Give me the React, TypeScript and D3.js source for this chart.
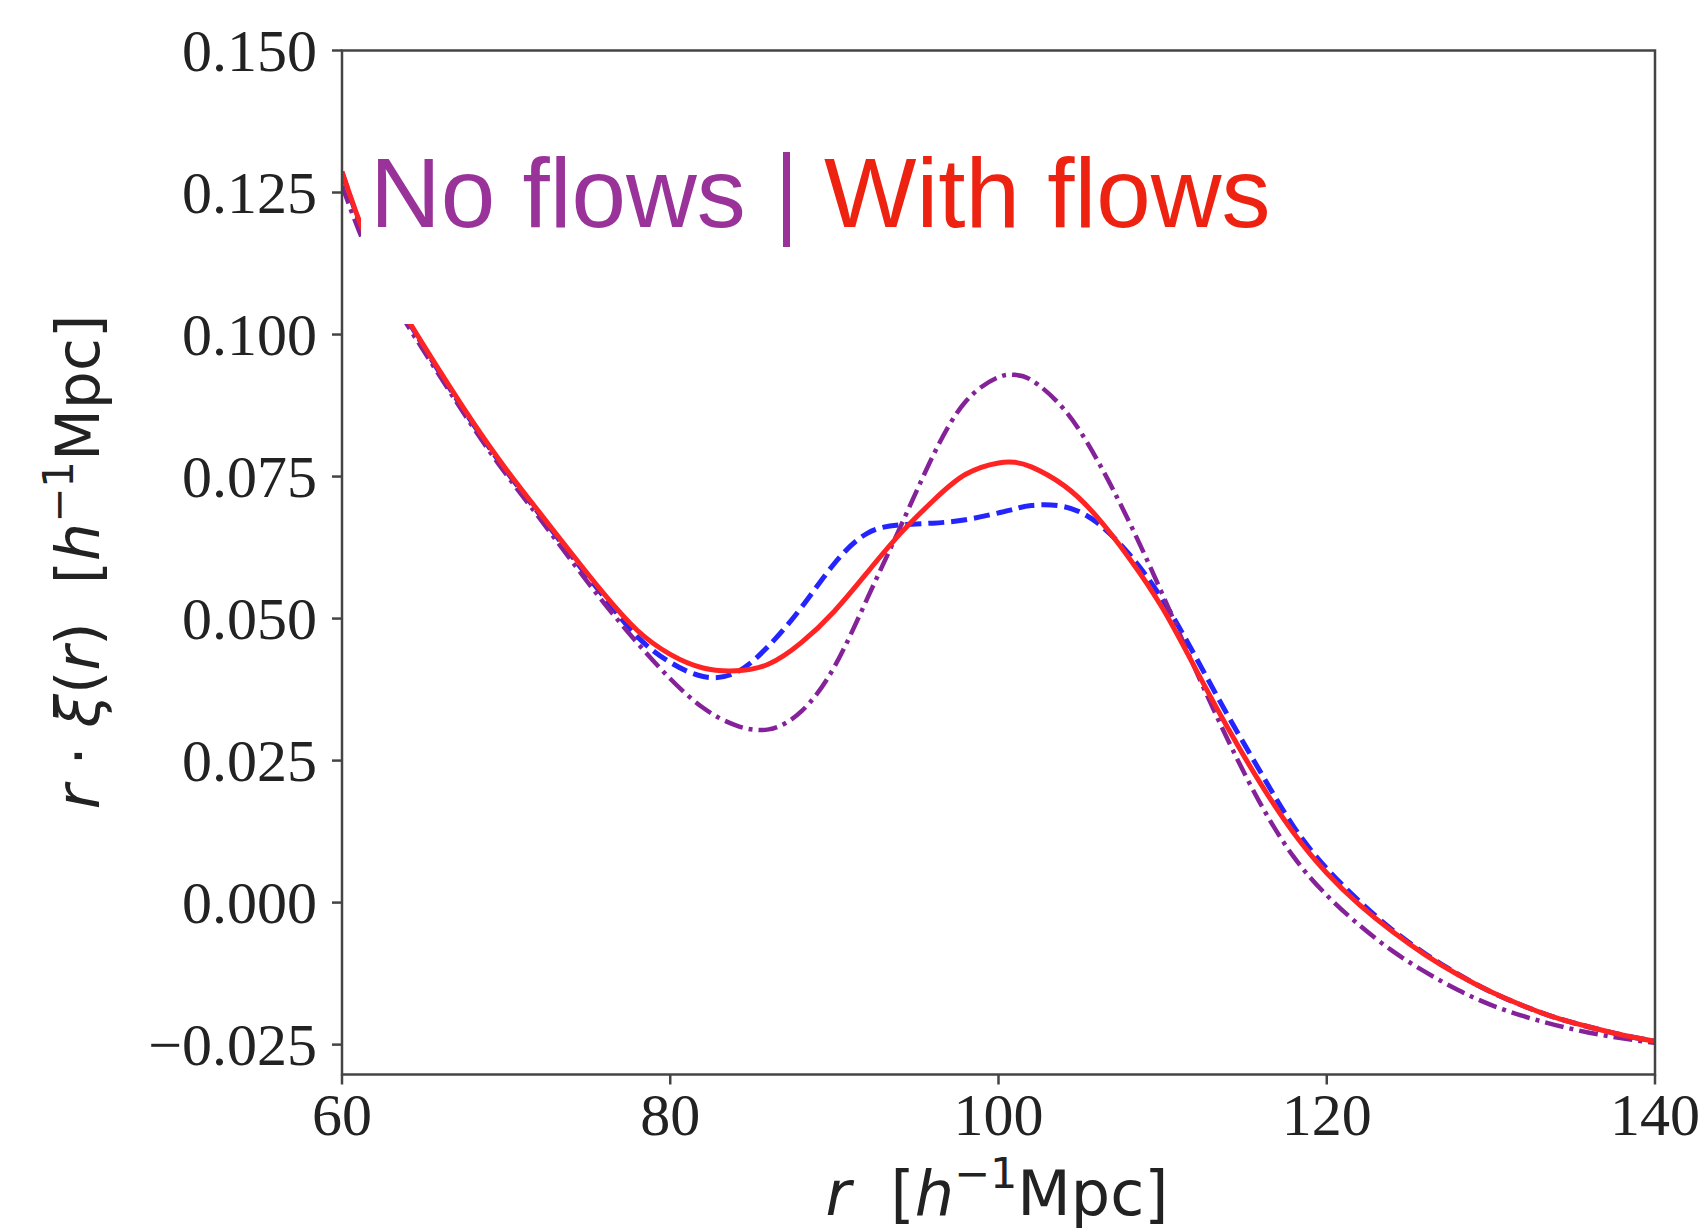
import React from "react";
import * as d3 from "d3";

// r grid (h^-1 Mpc)
const R = [60, 61, 62, 63, 64, 66, 68, 70, 72, 74, 76, 78, 80, 82, 84, 86, 88, 90, 92, 94, 96, 98, 100, 101, 102, 104, 106, 108, 110, 112, 114, 116, 118, 120, 122, 124, 126, 128, 130, 132, 134, 136, 138, 140];

// r * xi(r) — red solid ("With flows")
const redWithFlows = [0.1287, 0.1204, 0.1135, 0.1078, 0.1027, 0.0934, 0.0845, 0.0763, 0.0688, 0.0614, 0.0542, 0.0479, 0.0437, 0.0413, 0.0408, 0.0420, 0.0458, 0.0513, 0.0581, 0.0649, 0.0707, 0.0754, 0.0774, 0.0775, 0.0767, 0.0734, 0.0679, 0.0605, 0.0518, 0.0412, 0.0306, 0.0208, 0.0122, 0.0052, -0.0004, -0.0051, -0.0092, -0.0127, -0.0157, -0.0182, -0.0203, -0.0219, -0.0233, -0.0244];

// purple dash-dot ("No flows")
const purpleNoFlows = [0.1262, 0.1185, 0.1120, 0.1065, 0.1016, 0.0925, 0.0836, 0.0754, 0.0678, 0.0601, 0.0526, 0.0457, 0.0394, 0.0343, 0.0312, 0.0305, 0.0337, 0.0415, 0.0535, 0.0660, 0.0786, 0.0882, 0.0925, 0.0929, 0.0920, 0.0868, 0.0780, 0.0668, 0.0542, 0.0410, 0.0285, 0.0172, 0.0080, 0.0013, -0.0040, -0.0085, -0.0122, -0.0154, -0.0180, -0.0200, -0.0216, -0.0229, -0.0239, -0.0247];

// blue dashed
const blueDashed = [0.1285, 0.1202, 0.1133, 0.1076, 0.1025, 0.0931, 0.0842, 0.0760, 0.0685, 0.0610, 0.0537, 0.0468, 0.0423, 0.0398, 0.0405, 0.0452, 0.0520, 0.0597, 0.0650, 0.0665, 0.0668, 0.0674, 0.0686, 0.0693, 0.0699, 0.0697, 0.0669, 0.0612, 0.0533, 0.0433, 0.0328, 0.0228, 0.0133, 0.0060, 0.0002, -0.0048, -0.0090, -0.0126, -0.0157, -0.0182, -0.0203, -0.0219, -0.0233, -0.0244];

const xTicks = [60, 80, 100, 120, 140];
const yTicks = [-0.025, 0, 0.025, 0.05, 0.075, 0.1, 0.125, 0.15];

const W = 1702;
const H = 1229;
const M = { left: 342, right: 1655, top: 50.5, bottom: 1074.5 };

export default function App() {
  const x = d3.scaleLinear().domain([60, 140]).range([M.left, M.right]);
  const y = d3.scaleLinear().domain([-0.03026, 0.15]).range([M.bottom, M.top]);

  const line = (vals: number[]) =>
    d3
      .line<number>()
      .x((_, i) => x(R[i]))
      .y((d) => y(d))
      .curve(d3.curveNatural)(vals) as string;

  const axisColor = "#444";
  const fmt = (v: number) => (v < 0 ? "\u2212" : "") + Math.abs(v).toFixed(3);

  return (
    <svg
      width={W}
      height={H}
      style={{ position: "absolute", left: 0, top: 0, background: "#fff" }}
    >
      <defs>
        <clipPath id="plotclip">
          <rect x={M.left} y={M.top} width={M.right - M.left} height={M.bottom - M.top} />
        </clipPath>
      </defs>
      <rect x={0} y={0} width={W} height={H} fill="#fff" />

      <g clipPath="url(#plotclip)" fill="none" strokeLinejoin="round">
        <path d={line(blueDashed)} stroke="#2424ff" strokeWidth={5} strokeDasharray="16,7" />
        <path d={line(purpleNoFlows)} stroke="#85229a" strokeWidth={4.5} strokeDasharray="19,6,4,6" />
        <path d={line(redWithFlows)} stroke="#ff2424" strokeWidth={5} />
      </g>

      {/* white box behind annotation */}
      <rect x={361} y={120} width={930} height={204} fill="#fff" />

      {/* spines */}
      <rect
        x={M.left}
        y={M.top}
        width={M.right - M.left}
        height={M.bottom - M.top}
        fill="none"
        stroke={axisColor}
        strokeWidth={2.5}
      />

      {/* y ticks */}
      {yTicks.map((t) => (
        <g key={"y" + t}>
          <line x1={M.left - 10} x2={M.left} y1={y(t)} y2={y(t)} stroke={axisColor} strokeWidth={2.5} />
          <text
            x={317}
            y={y(t) + 20}
            textAnchor="end"
            fontFamily="'Liberation Serif', 'Times New Roman', serif"
            fontSize={60}
            fill="#222"
          >
            {fmt(t)}
          </text>
        </g>
      ))}

      {/* x ticks */}
      {xTicks.map((t) => (
        <g key={"x" + t}>
          <line x1={x(t)} x2={x(t)} y1={M.bottom} y2={M.bottom + 10} stroke={axisColor} strokeWidth={2.5} />
          <text
            x={x(t)}
            y={1135}
            textAnchor="middle"
            fontFamily="'Liberation Serif', 'Times New Roman', serif"
            fontSize={60}
            fill="#222"
          >
            {t}
          </text>
        </g>
      ))}

      {/* x label */}
      <text
        x={997}
        y={1215}
        textAnchor="middle"
        fontFamily="'DejaVu Sans', sans-serif"
        fontSize={62}
        fill="#222"
        style={{ whiteSpace: "pre" }}
      >
        <tspan fontStyle="italic">r</tspan>
        <tspan>{"  ["}</tspan>
        <tspan fontStyle="italic">h</tspan>
        <tspan fontSize={43} dy={-27}>{"\u22121"}</tspan>
        <tspan dy={27}>Mpc]</tspan>
      </text>

      {/* y label */}
      <text
        transform="translate(99,562) rotate(-90)"
        textAnchor="middle"
        fontFamily="'DejaVu Sans', sans-serif"
        fontSize={60}
        fill="#222"
        style={{ whiteSpace: "pre" }}
      >
        <tspan fontStyle="italic">r</tspan>
        <tspan>{" \u00b7 "}</tspan>
        <tspan fontStyle="italic">{"\u03be"}</tspan>
        <tspan>(</tspan>
        <tspan fontStyle="italic">r</tspan>
        <tspan>{")  ["}</tspan>
        <tspan fontStyle="italic">h</tspan>
        <tspan fontSize={42} dy={-26}>{"\u22121"}</tspan>
        <tspan dy={26}>Mpc]</tspan>
      </text>

      {/* annotation */}
      <text
        x={370}
        y={227}
        fontFamily="'Liberation Sans', Arial, Helvetica, sans-serif"
        fontSize={98}
        fill="#993399"
      >
        No flows
      </text>
      <rect x={783} y={152} width={7} height={95} fill="#993399" />
      <text
        x={824}
        y={227}
        fontFamily="'Liberation Sans', Arial, Helvetica, sans-serif"
        fontSize={98}
        fill="#ee2211"
      >
        With flows
      </text>
    </svg>
  );
}
